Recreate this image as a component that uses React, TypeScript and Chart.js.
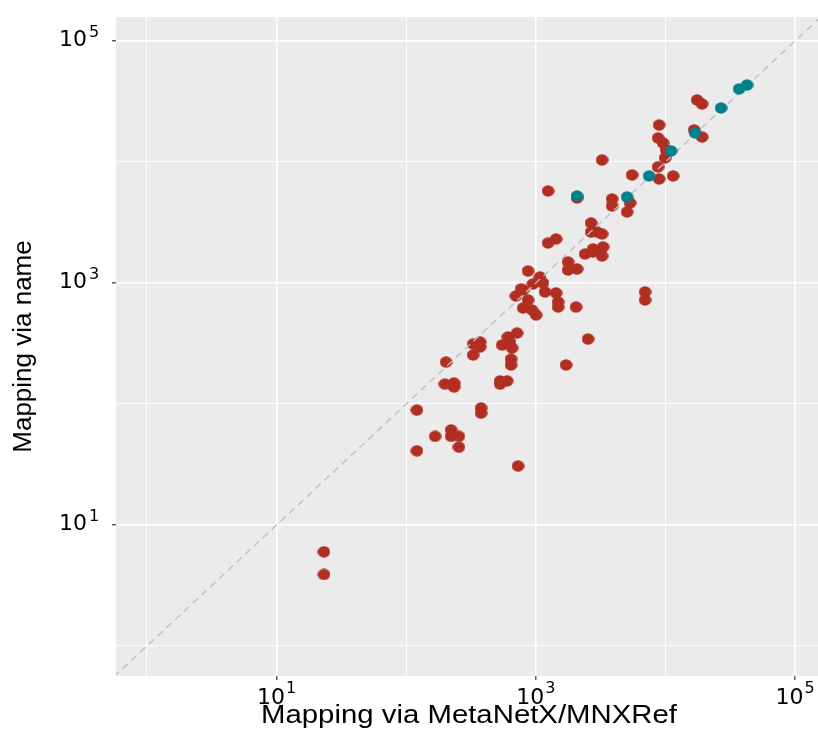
import React, { useEffect, useRef } from "react";
import { Chart, registerables } from "chart.js";

Chart.register(...registerables);

// ---- Data ----
// Red points: MetaNetX/MNXRef count (x) vs name count (y)
const redX = [
  23.2, 23.2, 121, 121, 167, 222, 222, 255, 255, 729, 378, 378, 203, 199, 234, 234,
  328, 328, 371, 371, 530, 600, 530, 549, 610, 716, 655, 644, 644, 632, 871, 1077,
  1136, 703, 797, 871, 951, 1178, 1432, 1484, 1484, 797, 935, 1004, 2043, 6960, 6960,
  1772, 1772, 2080, 2397, 2763, 3242, 3300, 2763, 2528, 1710, 2667, 2667, 2966, 3242,
  1242, 1432, 2080, 1242, 3242, 3873, 3873, 5057, 5330, 5525, 8930, 11450, 8770, 8930,
  8770, 9580, 10110, 9930, 16630, 19150, 17540, 19150, 769,
];
const redY = [
  6.0, 3.9, 89, 41, 54, 61, 54, 54, 44, 30.7, 92.7, 84, 222, 146, 149, 138,
  313, 254, 325, 296, 155, 155, 146, 307, 358, 386, 290, 235, 210, 325, 1256, 1121,
  1000, 781, 875, 724, 981, 843, 827, 697, 633, 621, 598, 544, 633, 843, 724,
  1492, 1281, 1305, 1737, 1804, 1672, 1985, 1910, 344, 210, 3133, 2638, 2638, 2541,
  2142, 2310, 5040, 5757, 10390, 4945, 4330, 3863, 4585, 7810, 7240, 7660, 9100, 20200,
  15800, 14360, 12570, 10790, 18380, 16100, 32540, 30150, 892,
];
// Teal points
const tealX = [2080, 5057, 7470, 11050, 16920, 26850, 36980, 42640];
const tealY = [5240, 5140, 7660, 12330, 17380, 27940, 40120, 43300];

// Axis settings
const gridValues = [1, 10, 100, 1000, 10000, 100000];
const majorValues = [10, 1000, 100000];
const labelExponents = [1, 3, 5];
const xMin = 0.577;
const xMax = 150300;
const yMin = 0.565;
const yMax = 157800;
const diagX = [0.1, 1000000];

const xTitle = "Mapping via MetaNetX/MNXRef";
const yTitle = "Mapping via name";

const RED = "#B02E22";
const TEAL = "#00808A";

function makeEllipse(color: string, w: number, h: number) {
  const c = document.createElement("canvas");
  c.width = w;
  c.height = h;
  const g = c.getContext("2d")!;
  g.fillStyle = color;
  g.beginPath();
  g.ellipse(w / 2, h / 2, w / 2 - 0.2, h / 2 - 0.2, 0, 0, Math.PI * 2);
  g.fill();
  return c;
}

const isMajor = (v: number) => majorValues.some((m) => Math.abs(Math.log10(v) - Math.log10(m)) < 1e-6);

const bgPlugin = {
  id: "ggBackground",
  beforeDraw(chart: any) {
    const { ctx, chartArea } = chart;
    ctx.save();
    ctx.fillStyle = "#FFFFFF";
    ctx.fillRect(0, 0, chart.width, chart.height);
    ctx.fillStyle = "#EBEBEB";
    ctx.fillRect(chartArea.left, chartArea.top, chartArea.right - chartArea.left, chartArea.bottom - chartArea.top);
    ctx.restore();
  },
};

const labelPlugin = {
  id: "ggTickLabels",
  afterDraw(chart: any) {
    const { ctx, chartArea } = chart;
    const xs = chart.scales.x;
    const ys = chart.scales.y;
    ctx.save();
    ctx.fillStyle = "#000000";
    ctx.textBaseline = "alphabetic";
    for (const k of labelExponents) {
      const v = Math.pow(10, k);
      // y-axis label
      const py = ys.getPixelForValue(v);
      const baseRight = chartArea.left - 29;
      ctx.font = '22px "DejaVu Sans"';
      ctx.textAlign = "right";
      ctx.fillText("10", baseRight, py + 5);
      ctx.font = '16px "DejaVu Sans"';
      ctx.textAlign = "left";
      ctx.fillText(String(k), baseRight + 2, py - 4);
      // x-axis label (whole label centred on the tick)
      const px = xs.getPixelForValue(v);
      ctx.font = '22px "DejaVu Sans"';
      const wBase = ctx.measureText("10").width;
      ctx.font = '16px "DejaVu Sans"';
      const wSup = ctx.measureText(String(k)).width;
      const left = px - (wBase + 1 + wSup) / 2;
      ctx.textAlign = "left";
      ctx.font = '22px "DejaVu Sans"';
      ctx.fillText("10", left, chartArea.bottom + 28);
      ctx.font = '16px "DejaVu Sans"';
      ctx.fillText(String(k), left + wBase + 1, chartArea.bottom + 17);
    }
    // x-axis title (slightly wide, as in the reference)
    ctx.font = '25px "Liberation Sans", Arial, sans-serif';
    const tw = ctx.measureText(xTitle).width;
    const sx = 416 / tw;
    const cx = (chartArea.left + chartArea.right) / 2 + 2;
    ctx.translate(cx, chartArea.bottom + 47);
    ctx.scale(sx, 1);
    ctx.textAlign = "center";
    ctx.fillText(xTitle, 0, 0);
    ctx.restore();
  },
};

export default function App() {
  const ref = useRef<HTMLCanvasElement | null>(null);

  useEffect(() => {
    if (!ref.current) return;
    const redImg = makeEllipse(RED, 13, 12);
    const tealImg = makeEllipse(TEAL, 13, 12);
    const redData = redX.map((x, i) => ({ x, y: redY[i] }));
    const tealData = tealX.map((x, i) => ({ x, y: tealY[i] }));
    const diagData = diagX.map((v) => ({ x: v, y: v }));

    const gridOpts = {
      color: "#FFFFFF",
      lineWidth: (c: any) => (c.tick && isMajor(c.tick.value) ? 1.6 : 0.9),
      drawTicks: true,
      tickLength: 4,
      tickWidth: 1.2,
      tickColor: (c: any) => (c.tick && isMajor(c.tick.value) ? "#333333" : "rgba(0,0,0,0)"),
    };

    const chart = new Chart(ref.current, {
      type: "scatter",
      data: {
        datasets: [
          {
            label: "red",
            data: redData,
            pointStyle: redImg as any,
            pointRadius: 6,
            backgroundColor: RED,
            borderColor: RED,
            order: 3,
          },
          {
            type: "line",
            label: "y = x",
            data: diagData,
            borderColor: "#BDBDBD",
            borderDash: [7, 5],
            borderWidth: 1.3,
            pointRadius: 0,
            fill: false,
            order: 2,
          } as any,
          {
            label: "teal",
            data: tealData,
            pointStyle: tealImg as any,
            pointRadius: 6,
            backgroundColor: TEAL,
            borderColor: TEAL,
            order: 1,
          },
        ],
      },
      options: {
        animation: false,
        responsive: false,
        layout: { autoPadding: false, padding: { top: 17, left: 0, right: 0, bottom: 0 } },
        plugins: { legend: { display: false }, tooltip: { enabled: false } },
        scales: {
          x: {
            type: "logarithmic",
            min: xMin,
            max: xMax,
            afterBuildTicks: (s: any) => {
              s.ticks = gridValues.map((v) => ({ value: v }));
            },
            afterFit: (s: any) => {
              s.height = 55;
            },
            grid: gridOpts as any,
            border: { display: false },
            ticks: { display: false },
            title: { display: false, text: xTitle },
          },
          y: {
            type: "logarithmic",
            min: yMin,
            max: yMax,
            afterBuildTicks: (s: any) => {
              s.ticks = gridValues.map((v) => ({ value: v }));
            },
            afterFit: (s: any) => {
              s.width = 116;
            },
            grid: gridOpts as any,
            border: { display: false },
            ticks: { display: false },
            title: {
              display: true,
              text: yTitle,
              color: "#000000",
              font: { family: '"Liberation Sans", Arial, sans-serif', size: 26, lineHeight: 1 },
              padding: { top: 11, bottom: 0 },
            },
          },
        },
      },
      plugins: [bgPlugin, labelPlugin],
    });
    return () => chart.destroy();
  }, []);

  return (
    <div style={{ position: "fixed", left: 0, top: 0, width: 818, height: 731, background: "#FFFFFF" }}>
      <canvas ref={ref} width={818} height={731} style={{ display: "block" }} />
    </div>
  );
}
